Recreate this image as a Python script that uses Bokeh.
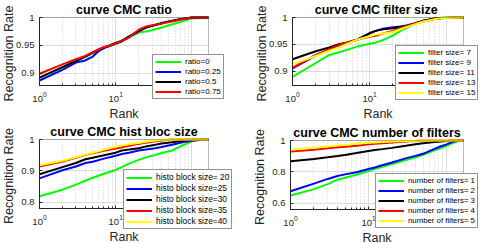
import math
from bokeh.plotting import figure
from bokeh.models import Range1d, FixedTicker, Label, Legend, LegendItem, BoxAnnotation
from bokeh.layouts import gridplot
from bokeh.embed import file_html
from bokeh.resources import INLINE

FONT = "Liberation Sans"
COLORS5 = ["#00ff00", "#0000ff", "#000000", "#ff0000", "#ffff00"]
AXC = "#262626"

# ---------------- panel 1: ratio ----------------
ratio_ranks = [1, 2, 3, 4, 5, 6, 7, 8, 10, 12, 15, 20, 25, 30, 40, 50, 70, 100, 165]
ratio_0    = [0.892, 0.910, 0.922, 0.929, 0.936, 0.941, 0.945, 0.949, 0.955, 0.959, 0.964, 0.973, 0.975, 0.977, 0.982, 0.986, 0.992, 0.998, 1.0]
ratio_025  = [0.887, 0.906, 0.919, 0.923, 0.930, 0.940, 0.945, 0.948, 0.953, 0.957, 0.965, 0.975, 0.982, 0.985, 0.989, 0.993, 0.997, 1.0, 1.0]
ratio_05   = [0.892, 0.911, 0.922, 0.930, 0.937, 0.942, 0.946, 0.949, 0.954, 0.958, 0.966, 0.976, 0.982, 0.985, 0.990, 0.993, 0.997, 1.0, 1.0]
ratio_075  = [0.899, 0.916, 0.925, 0.931, 0.938, 0.943, 0.947, 0.949, 0.953, 0.958, 0.964, 0.978, 0.984, 0.986, 0.989, 0.992, 0.996, 1.0, 1.0]
ratio_labels = ["ratio=0", "ratio=0.25", "ratio=0.5", "ratio=0.75"]

# ---------------- panel 2: filter size ----------------
fs_ranks = [1, 2, 3, 4, 5, 7, 10, 12, 15, 20, 25, 30, 40, 50, 70, 90, 165]
fs_7  = [0.889, 0.915, 0.930, 0.935, 0.939, 0.946, 0.951, 0.953, 0.958, 0.966, 0.975, 0.980, 0.990, 0.994, 0.998, 1.0, 1.0]
fs_9  = [0.905, 0.929, 0.940, 0.948, 0.952, 0.959, 0.970, 0.975, 0.979, 0.982, 0.983, 0.985, 0.990, 0.994, 0.998, 0.999, 1.0]
fs_11 = [0.922, 0.937, 0.944, 0.950, 0.953, 0.959, 0.971, 0.975, 0.978, 0.980, 0.982, 0.984, 0.989, 0.994, 0.998, 0.999, 1.0]
fs_13 = [0.906, 0.930, 0.941, 0.949, 0.953, 0.959, 0.964, 0.966, 0.970, 0.975, 0.980, 0.984, 0.989, 0.9925, 0.997, 0.999, 1.0]
fs_15 = [0.9125, 0.928, 0.938, 0.944, 0.950, 0.959, 0.965, 0.968, 0.970, 0.973, 0.978, 0.982, 0.988, 0.9925, 0.997, 0.999, 1.0]
fs_labels = ["filter size= 7", "filter size= 9", "filter size= 11", "filter size= 13", "filter size= 15"]

# ---------------- panel 3: hist bloc size ----------------
hb_ranks = [1, 2, 3, 4, 5, 7, 10, 12, 15, 20, 25, 33, 40, 55, 75, 100, 140, 165]
hb_20 = [0.819, 0.840, 0.856, 0.869, 0.878, 0.891, 0.903, 0.912, 0.923, 0.935, 0.943, 0.951, 0.957, 0.965, 0.981, 0.994, 1.0, 1.0]
hb_25 = [0.876, 0.902, 0.914, 0.925, 0.929, 0.939, 0.948, 0.954, 0.958, 0.965, 0.968, 0.972, 0.976, 0.983, 0.991, 0.996, 1.0, 1.0]
hb_30 = [0.889, 0.912, 0.925, 0.937, 0.942, 0.950, 0.958, 0.965, 0.968, 0.972, 0.978, 0.983, 0.987, 0.991, 0.996, 1.0, 1.0, 1.0]
hb_35 = [0.914, 0.930, 0.942, 0.951, 0.956, 0.964, 0.971, 0.975, 0.980, 0.986, 0.990, 0.994, 0.997, 1.0, 1.0, 1.0, 1.0, 1.0]
hb_40 = [0.918, 0.932, 0.943, 0.952, 0.958, 0.967, 0.977, 0.981, 0.985, 0.989, 0.993, 0.997, 0.999, 1.0, 1.0, 1.0, 1.0, 1.0]
hb_labels = ["histo block size= 20", "histo block size=25", "histo block size=30", "histo block size=35", "histo block size=40"]

# ---------------- panel 4: number of filters ----------------
nf_ranks = [1, 2, 3, 4, 5, 7, 10, 12, 15, 20, 30, 40, 50, 70, 85, 100, 125, 150, 165]
nf_1 = [0.649, 0.690, 0.722, 0.750, 0.762, 0.782, 0.805, 0.818, 0.832, 0.850, 0.875, 0.893, 0.909, 0.937, 0.952, 0.966, 0.987, 1.0, 1.0]
nf_2 = [0.676, 0.725, 0.755, 0.774, 0.784, 0.797, 0.818, 0.828, 0.842, 0.860, 0.886, 0.902, 0.915, 0.947, 0.963, 0.975, 0.994, 1.0, 1.0]
nf_3 = [0.867, 0.882, 0.893, 0.901, 0.908, 0.920, 0.933, 0.939, 0.945, 0.953, 0.966, 0.976, 0.983, 0.991, 0.994, 0.997, 1.0, 1.0, 1.0]
nf_4 = [0.930, 0.941, 0.950, 0.957, 0.960, 0.966, 0.976, 0.979, 0.983, 0.987, 0.994, 0.997, 1.0, 1.0, 1.0, 1.0, 1.0, 1.0, 1.0]
nf_5 = [0.941, 0.953, 0.962, 0.968, 0.972, 0.979, 0.985, 0.987, 0.990, 0.994, 0.997, 0.999, 1.0, 1.0, 1.0, 1.0, 1.0, 1.0, 1.0]
nf_labels = ["number of filters= 1", "number of filters= 2", "number of filters= 3", "number of filters= 4", "number of filters= 5"]

X_MIN, X_MAX = 1, 165


def make_panel(title, ranks, series, labels, colors, ymin, yticks, ylabels,
               W, H, box, leg_left, leg_bottom, leg_font):
    # box = (left, right, top, bottom) of the axes box, in pixels inside this figure
    L, R, T, B = box
    a, b = math.log10(X_MIN), math.log10(X_MAX)
    k = (R - L) / (b - a)
    xr = Range1d(10 ** (a - L / k), 10 ** (b + (W - R) / k))
    m = (B - T) / (1.0 - ymin)
    yr = Range1d(ymin - (H - B) / m, 1.0 + T / m)

    p = figure(width=W, height=H, x_axis_type="log", x_range=xr, y_range=yr,
               output_backend="svg", toolbar_location=None, min_border=0,
               background_fill_color="white", border_fill_color="white")
    p.outline_line_color = None

    p.xaxis.fixed_location = ymin
    p.yaxis.fixed_location = X_MIN
    p.xaxis.bounds = (X_MIN, X_MAX)
    p.yaxis.bounds = (ymin, 1.0)
    for ax in (p.xaxis[0], p.yaxis[0]):
        ax.axis_line_color = AXC
        ax.major_tick_in = 3
        ax.major_tick_out = 0
        ax.major_tick_line_color = AXC
        ax.major_label_text_font = FONT
        ax.major_label_text_font_size = "9.5px"
        ax.major_label_text_color = AXC
    p.xaxis.minor_tick_in = 2
    p.xaxis.minor_tick_out = 0
    p.xaxis.minor_tick_line_color = AXC
    p.xaxis.major_label_standoff = 6
    p.xaxis.major_label_overrides = {100: ""}
    p.yaxis.minor_tick_line_color = None
    p.yaxis.major_label_standoff = 5
    p.yaxis.ticker = FixedTicker(ticks=yticks)
    p.yaxis.major_label_overrides = {t: s for t, s in zip(yticks, ylabels)}

    p.xgrid.grid_line_color = "#dcdcdc"
    p.ygrid.grid_line_color = "#dcdcdc"
    p.xgrid.minor_grid_line_color = "#cfcfcf"
    p.xgrid.minor_grid_line_dash = "1 2"
    p.xgrid.cross_bounds = (ymin, 1.0)
    p.ygrid.cross_bounds = (X_MIN, X_MAX)

    items = []
    for vals, lab, col in zip(series, labels, colors):
        r = p.line(ranks, vals, line_color=col, line_width=2)
        items.append(LegendItem(label=lab, renderers=[r]))

    p.add_layout(BoxAnnotation(left=X_MIN, right=X_MAX, bottom=ymin, top=1.0,
                               fill_alpha=0, line_color=AXC, line_width=1,
                               level="guide"))

    leg = Legend(items=items, location=(leg_left, H - leg_bottom))
    leg.label_text_font = FONT
    leg.label_text_font_size = leg_font
    leg.label_text_color = "#000000"
    leg.glyph_width = 26
    leg.glyph_height = 9
    leg.label_height = 9
    leg.label_standoff = 4
    leg.spacing = 1
    leg.padding = 2
    leg.margin = 0
    leg.border_line_color = AXC
    leg.border_line_width = 1
    leg.background_fill_alpha = 1.0
    p.add_layout(leg)

    cx = (L + R) / 2
    p.add_layout(Label(x=cx, y=H - (T - 7.5), x_units="screen", y_units="screen",
                       text=title, text_align="center", text_baseline="middle",
                       text_font=FONT, text_font_size="12.5px", text_font_style="bold",
                       text_color="#000000"))
    p.add_layout(Label(x=cx, y=H - (B + 28), x_units="screen", y_units="screen",
                       text="Rank", text_align="center", text_baseline="middle",
                       text_font=FONT, text_font_size="12.5px", text_color=AXC))
    p.add_layout(Label(x=L - 31, y=H - ((T + B) / 2 + 2), x_units="screen", y_units="screen",
                       text="Recognition Rate", angle=math.pi / 2,
                       text_align="center", text_baseline="middle",
                       text_font=FONT, text_font_size="12.5px", text_color=AXC))
    return p


p1 = make_panel("curve CMC ratio", ratio_ranks,
                [ratio_0, ratio_025, ratio_05, ratio_075], ratio_labels, COLORS5[:4],
                0.878, [0.9, 0.95, 1.0], ["0.9", "0.95", "1"],
                240, 121, (39, 208, 17, 85), 152, 99, "8px")
p2 = make_panel("curve CMC  filter size", fs_ranks,
                [fs_7, fs_9, fs_11, fs_13, fs_15], fs_labels, COLORS5,
                0.873, [0.9, 0.95, 1.0], ["0.9", "0.95", "1"],
                240, 121, (52, 223, 17, 85), 155, 100, "8px")
p3 = make_panel("curve CMC hist bloc size", hb_ranks,
                [hb_20, hb_25, hb_30, hb_35, hb_40], hb_labels, COLORS5,
                0.78, [0.8, 0.9, 1.0], ["0.8", "0.9", "1"],
                240, 122, (39, 208, 18, 87), 123, 108, "8.4px")
p4 = make_panel("curve CMC number of filters", nf_ranks,
                [nf_1, nf_2, nf_3, nf_4, nf_5], nf_labels, COLORS5,
                0.56, [0.6, 0.8, 1.0], ["0.6", "0.8", "1"],
                240, 122, (50, 223, 19, 88), 135, 107, "7.8px")

grid = gridplot([[p1, p2], [p3, p4]], toolbar_location=None)

with open("out.html", "w") as f:
    f.write(file_html(grid, INLINE))
